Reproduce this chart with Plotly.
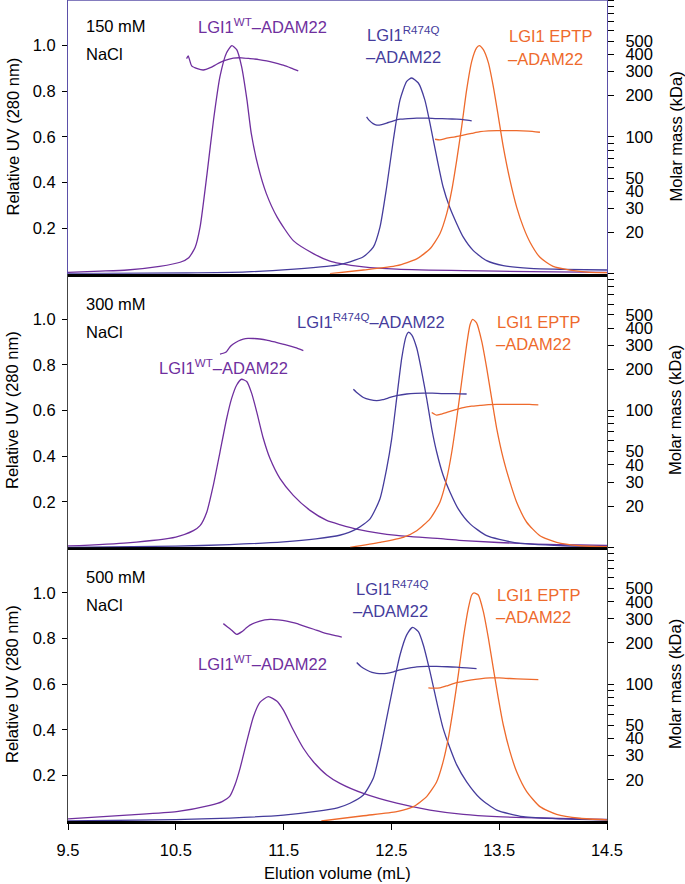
import plotly.graph_objects as go
from plotly.subplots import make_subplots

# ---------------- data ----------------
panel_labels = ["150 mM", "300 mM", "500 mM"]

# 150 mM NaCl
wt150_vol = [9.5, 9.8, 10.05, 10.35, 10.54, 10.62, 10.68, 10.725, 10.79, 10.85, 10.91, 10.97, 11.02, 11.065, 11.11, 11.16, 11.2, 11.265, 11.34, 11.44, 11.59, 11.78, 11.93, 12.02, 12.24, 12.55, 13.17, 13.8, 14.5]
wt150_uv = [0.006, 0.011, 0.016, 0.032, 0.05, 0.07, 0.116, 0.204, 0.439, 0.674, 0.865, 0.968, 1.0, 0.982, 0.909, 0.762, 0.615, 0.468, 0.351, 0.248, 0.145, 0.087, 0.055, 0.045, 0.03, 0.02, 0.013, 0.009, 0.006]
r474q150_vol = [9.5, 10.6, 11.16, 11.6, 11.9, 12.02, 12.116, 12.24, 12.332, 12.394, 12.456, 12.518, 12.58, 12.642, 12.688, 12.75, 12.81, 12.858, 12.92, 12.98, 13.04, 13.106, 13.167, 13.26, 13.384, 13.538, 13.786, 14.1, 14.5]
r474q150_uv = [0.0, 0.003, 0.008, 0.02, 0.032, 0.04, 0.052, 0.074, 0.116, 0.204, 0.38, 0.586, 0.762, 0.843, 0.858, 0.836, 0.762, 0.659, 0.512, 0.38, 0.292, 0.219, 0.16, 0.101, 0.057, 0.035, 0.023, 0.019, 0.016]
eptp150_vol = [11.93, 12.24, 12.55, 12.735, 12.858, 12.95, 13.013, 13.06, 13.106, 13.152, 13.198, 13.245, 13.29, 13.315, 13.353, 13.4, 13.445, 13.492, 13.538, 13.6, 13.662, 13.724, 13.786, 13.878, 14.0, 14.157, 14.34, 14.5]
eptp150_uv = [0.0, 0.016, 0.035, 0.065, 0.109, 0.175, 0.263, 0.366, 0.498, 0.645, 0.806, 0.931, 0.99, 1.0, 0.982, 0.924, 0.821, 0.689, 0.556, 0.41, 0.292, 0.204, 0.138, 0.072, 0.032, 0.016, 0.006, 0.004]
wt150_mm_vol = [10.60, 10.615, 10.647, 10.70, 10.755, 10.82, 10.879, 10.95, 11.033, 11.11, 11.188, 11.27, 11.343, 11.42, 11.497, 11.57, 11.636]
wt150_mm = [373, 390, 330, 315, 308, 320, 339, 360, 376, 378, 373, 367, 359, 347, 334, 318, 303]
r474q150_mm_vol = [12.27, 12.29, 12.33, 12.364, 12.41, 12.456, 12.52, 12.58, 12.66, 12.735, 12.83, 12.92, 13.02, 13.106, 13.18, 13.245]
r474q150_mm = [140, 133, 125, 122, 123, 126, 131, 134.5, 136, 137, 137, 136, 135.5, 134.5, 133, 131]
eptp150_mm_vol = [12.905, 12.95, 13.013, 13.09, 13.167, 13.245, 13.322, 13.40, 13.477, 13.57, 13.66, 13.77, 13.878]
eptp150_mm = [96, 95, 97.8, 100, 103, 106, 109, 110.5, 111, 111, 111, 110, 108]

# 300 mM NaCl
wt300_vol = [9.5, 10.05, 10.5, 10.663, 10.725, 10.787, 10.848, 10.91, 10.972, 11.018, 11.065, 11.11, 11.158, 11.204, 11.25, 11.312, 11.374, 11.467, 11.59, 11.745, 11.9, 12.02, 12.2, 12.55, 13.0, 13.17, 13.79, 14.5]
wt300_uv = [0.006, 0.02, 0.045, 0.073, 0.095, 0.154, 0.272, 0.418, 0.565, 0.653, 0.712, 0.737, 0.727, 0.675, 0.595, 0.477, 0.389, 0.301, 0.228, 0.162, 0.118, 0.10, 0.078, 0.052, 0.036, 0.029, 0.015, 0.008]
r474q300_vol = [9.5, 10.5, 11.0, 11.5, 11.8, 12.02, 12.178, 12.302, 12.394, 12.456, 12.503, 12.549, 12.596, 12.636, 12.657, 12.688, 12.735, 12.781, 12.827, 12.874, 12.92, 12.98, 13.044, 13.12, 13.23, 13.384, 13.63, 14.095, 14.5]
r474q300_uv = [0.0, 0.005, 0.012, 0.024, 0.037, 0.053, 0.081, 0.125, 0.213, 0.345, 0.477, 0.653, 0.83, 0.925, 0.943, 0.932, 0.874, 0.771, 0.653, 0.521, 0.418, 0.316, 0.242, 0.169, 0.103, 0.051, 0.022, 0.007, 0.004]
eptp300_vol = [12.116, 12.394, 12.61, 12.735, 12.858, 12.95, 13.013, 13.06, 13.106, 13.152, 13.198, 13.23, 13.254, 13.29, 13.338, 13.384, 13.43, 13.477, 13.538, 13.6, 13.662, 13.755, 13.878, 14.033, 14.25, 14.5]
eptp300_uv = [0.0, 0.022, 0.044, 0.073, 0.125, 0.198, 0.301, 0.418, 0.565, 0.727, 0.888, 0.977, 1.0, 0.984, 0.903, 0.786, 0.653, 0.521, 0.389, 0.286, 0.198, 0.11, 0.051, 0.022, 0.007, 0.003]
wt300_mm_vol = [10.91, 10.94, 10.97, 11.0, 11.033, 11.08, 11.126, 11.17, 11.22, 11.28, 11.343, 11.43, 11.53, 11.61, 11.683]
wt300_mm = [258, 262, 269, 290, 306, 322, 333, 337, 336, 333, 327, 315, 301, 288, 274]
r474q300_mm_vol = [12.147, 12.19, 12.24, 12.30, 12.364, 12.42, 12.487, 12.56, 12.642, 12.72, 12.796, 12.88, 12.98, 13.09, 13.198]
r474q300_mm = [143, 133, 124.5, 120, 118, 120, 124.5, 129, 132, 133.5, 134, 134, 133, 133, 132]
eptp300_mm_vol = [12.874, 12.92, 12.96, 13.013, 13.09, 13.167, 13.245, 13.322, 13.40, 13.477, 13.58, 13.693, 13.78, 13.863]
eptp300_mm = [96.7, 92.4, 94, 96.7, 101, 105, 107.5, 109, 110.5, 111, 111, 111, 111, 110]

# 500 mM NaCl
wt500_vol = [9.5, 10.045, 10.508, 10.817, 10.93, 11.0, 11.05, 11.096, 11.158, 11.22, 11.28, 11.358, 11.436, 11.497, 11.59, 11.683, 11.776, 11.9, 12.023, 12.24, 12.55, 12.858, 13.167, 13.477, 13.94, 14.5]
wt500_uv = [0.009, 0.026, 0.041, 0.068, 0.085, 0.108, 0.16, 0.231, 0.348, 0.457, 0.520, 0.545, 0.526, 0.487, 0.399, 0.319, 0.260, 0.202, 0.165, 0.121, 0.078, 0.048, 0.029, 0.019, 0.012, 0.007]
r474q500_vol = [9.5, 10.5, 11.0, 11.5, 11.8, 12.0, 12.116, 12.24, 12.332, 12.394, 12.456, 12.518, 12.58, 12.642, 12.697, 12.75, 12.796, 12.858, 12.92, 12.98, 13.044, 13.106, 13.198, 13.322, 13.477, 13.724, 14.095, 14.5]
r474q500_uv = [0.0, 0.006, 0.013, 0.026, 0.042, 0.058, 0.078, 0.114, 0.187, 0.304, 0.45, 0.596, 0.728, 0.816, 0.849, 0.83, 0.772, 0.655, 0.523, 0.406, 0.319, 0.246, 0.172, 0.1, 0.048, 0.019, 0.009, 0.004]
eptp500_vol = [11.85, 12.24, 12.55, 12.704, 12.827, 12.92, 12.98, 13.028, 13.074, 13.12, 13.167, 13.214, 13.245, 13.266, 13.306, 13.353, 13.4, 13.445, 13.492, 13.538, 13.6, 13.662, 13.755, 13.878, 14.033, 14.25, 14.5]
eptp500_uv = [0.0, 0.023, 0.041, 0.063, 0.107, 0.172, 0.26, 0.363, 0.494, 0.64, 0.801, 0.933, 0.991, 1.0, 0.991, 0.918, 0.801, 0.67, 0.538, 0.421, 0.304, 0.216, 0.129, 0.063, 0.029, 0.012, 0.005]
wt500_mm_vol = [10.941, 10.98, 11.018, 11.065, 11.11, 11.15, 11.188, 11.28, 11.374, 11.45, 11.53, 11.61, 11.683, 11.78, 11.868, 11.95, 12.04]
wt500_mm = [277, 262, 248, 231, 241, 256, 270, 289, 297, 295, 289, 279, 267, 252, 238, 229, 221]
r474q500_mm_vol = [12.178, 12.22, 12.27, 12.32, 12.364, 12.456, 12.52, 12.58, 12.66, 12.735, 12.83, 12.92, 13.02, 13.106, 13.2, 13.29]
r474q500_mm = [144, 134, 127, 122, 120, 120, 123, 127, 131, 134, 135, 135, 134, 133, 131.5, 130]
eptp500_mm_vol = [12.843, 12.9, 12.95, 13.01, 13.074, 13.15, 13.23, 13.32, 13.415, 13.5, 13.6, 13.73, 13.863]
eptp500_mm = [94, 93.5, 94, 97, 101, 104, 107, 109.5, 111, 111, 110, 109, 108]

x_ticks = [9.5, 10.5, 11.5, 12.5, 13.5, 14.5]
uv_ticks = [0.2, 0.4, 0.6, 0.8, 1.0]
mm_ticks = [20, 30, 40, 50, 100, 200, 300, 400, 500]
mm_minor = [60, 70, 80, 90, 600, 700, 800, 900, 1000]

# ---------------- styling ----------------
C_WT = "#6f2f9e"
C_RQ = "#453c9c"
C_EP = "#ee6a2c"
FONT = "Liberation Sans, Arial, Helvetica, sans-serif"
FS = 16.5
W, H = 685, 884
ML, MR, MT, MB = 68, 78, 0, 63
PW, PH = W - ML - MR, H - MT - MB

def px(x):
    return (x - ML) / PW

def py(y):
    return (PH - (y - MT)) / PH

fig = make_subplots(rows=3, cols=1, shared_xaxes=True, vertical_spacing=0,
                    specs=[[{"secondary_y": True}]] * 3)

panels = [
    (wt150_vol, wt150_uv, r474q150_vol, r474q150_uv, eptp150_vol, eptp150_uv,
     wt150_mm_vol, wt150_mm, r474q150_mm_vol, r474q150_mm, eptp150_mm_vol, eptp150_mm),
    (wt300_vol, wt300_uv, r474q300_vol, r474q300_uv, eptp300_vol, eptp300_uv,
     wt300_mm_vol, wt300_mm, r474q300_mm_vol, r474q300_mm, eptp300_mm_vol, eptp300_mm),
    (wt500_vol, wt500_uv, r474q500_vol, r474q500_uv, eptp500_vol, eptp500_uv,
     wt500_mm_vol, wt500_mm, r474q500_mm_vol, r474q500_mm, eptp500_mm_vol, eptp500_mm),
]

for i, p in enumerate(panels):
    row = i + 1
    (wv, wu, rv, ru, ev, eu, wmv, wm, rmv, rm, emv, em) = p
    for xs, ys, c in [(wv, wu, C_WT), (rv, ru, C_RQ), (ev, eu, C_EP)]:
        fig.add_trace(go.Scatter(x=xs, y=ys, mode="lines",
                                 line=dict(color=c, width=1.3, shape="spline", smoothing=0.6),
                                 showlegend=False, hoverinfo="skip"),
                      row=row, col=1, secondary_y=False)
    for xs, ys, c in [(wmv, wm, C_WT), (rmv, rm, C_RQ), (emv, em, C_EP)]:
        fig.add_trace(go.Scatter(x=xs, y=ys, mode="lines",
                                 line=dict(color=c, width=1.3, shape="spline", smoothing=0.5),
                                 showlegend=False, hoverinfo="skip"),
                      row=row, col=1, secondary_y=True)

tickfont = dict(family=FONT, size=FS, color="black")
for i in range(3):
    row = i + 1
    frame = "#5b50a8" if i == 0 else "#444444"
    fig.update_xaxes(row=row, col=1, range=[9.5, 14.5], domain=[0, 1],
                     showgrid=False, zeroline=False, automargin=False,
                     showline=True, linecolor="black", linewidth=2.5, layer="below traces",
                     tickmode="array", tickvals=x_ticks,
                     ticktext=[f"{v:.1f}" for v in x_ticks],
                     ticks="outside" if row == 3 else "", ticklen=6, tickcolor="black",
                     showticklabels=(row == 3), tickfont=tickfont, ticklabelstandoff=6)
    fig.update_yaxes(row=row, col=1, secondary_y=False, range=[0, 1.2], showgrid=False,
                     automargin=False,
                     zeroline=False, showline=True, linecolor=frame, linewidth=1.2,
                     tickmode="array", tickvals=uv_ticks,
                     ticktext=[f"{v:.1f}" for v in uv_ticks],
                     ticks="outside", ticklen=5, tickcolor="black", tickfont=tickfont,
                     ticklabelstandoff=3)
    fig.update_yaxes(row=row, col=1, secondary_y=True, type="log", range=[1, 3],
                     automargin=False,
                     showgrid=False, zeroline=False, showline=True, linecolor=frame,
                     linewidth=1.2, tickmode="array", tickvals=mm_ticks,
                     ticktext=[str(v) for v in mm_ticks],
                     ticks="outside", ticklen=6, tickcolor="black", tickfont=tickfont,
                     ticklabelstandoff=8,
                     minor=dict(tickmode="array", tickvals=mm_minor, ticks="outside",
                                ticklen=6, tickcolor="black", showgrid=False))

annots = []
def add_text(text, x, y, color="black", angle=0, xanchor="left", size=FS):
    annots.append(dict(text=text, x=px(x), y=py(y), xref="paper", yref="paper",
                       xanchor=xanchor, yanchor="middle", showarrow=False,
                       textangle=angle, font=dict(family=FONT, size=size, color=color)))

# panel texts
add_text(panel_labels[0], 84, 26); add_text("NaCl", 84, 54.5)
add_text(panel_labels[1], 84, 303.5); add_text("NaCl", 84, 332)
add_text(panel_labels[2], 84, 577); add_text("NaCl", 84, 605)

add_text("LGI1<sup>WT</sup>–ADAM22", 196, 26, C_WT)
add_text("LGI1<sup>R474Q</sup>", 365, 34, C_RQ)
add_text("–ADAM22", 364, 56.5, C_RQ)
add_text("LGI1 EPTP", 507, 36, C_EP)
add_text("–ADAM22", 506, 58.5, C_EP)

add_text("LGI1<sup>WT</sup>–ADAM22", 157, 367, C_WT)
add_text("LGI1<sup>R474Q</sup>–ADAM22", 295, 321, C_RQ)
add_text("LGI1 EPTP", 495, 322, C_EP)
add_text("–ADAM22", 494, 343.5, C_EP)

add_text("LGI1<sup>WT</sup>–ADAM22", 196, 663, C_WT)
add_text("LGI1<sup>R474Q</sup>", 354, 588, C_RQ)
add_text("–ADAM22", 351, 611, C_RQ)
add_text("LGI1 EPTP", 495, 595, C_EP)
add_text("–ADAM22", 494, 616.5, C_EP)

# axis titles
for cy in [136.5, 410, 684]:
    add_text("Relative UV (280 nm)", 12, cy, angle=-90, xanchor="center")
    add_text("Molar mass (kDa)", 675, cy, angle=-90, xanchor="center")
add_text("Elution volume (mL)", 337.5, 873, xanchor="center")

fig.update_layout(
    width=W, height=H, margin=dict(l=ML, r=MR, t=MT, b=MB, autoexpand=False),
    paper_bgcolor="white", plot_bgcolor="white", showlegend=False,
    annotations=annots,
    shapes=[dict(type="line", xref="paper", yref="paper", x0=0, x1=1, y0=1, y1=1,
                 line=dict(color="#5b50a8", width=1.5))],
    font=dict(family=FONT, size=FS, color="black"),
)

fig.write_html("out.html", config={"displayModeBar": False},
               post_script="document.body.style.margin='0px';document.body.style.overflow='hidden';")
